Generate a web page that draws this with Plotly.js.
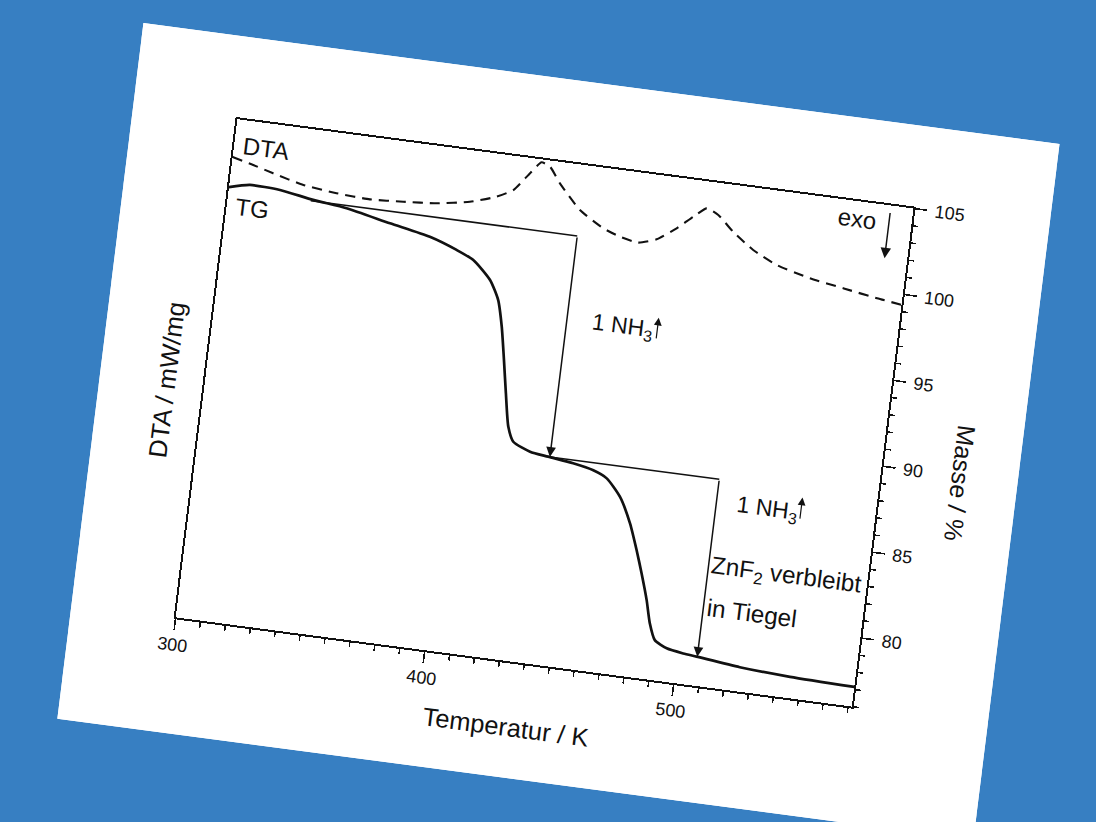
<!DOCTYPE html>
<html>
<head>
<meta charset="utf-8">
<script src="https://cdn.plot.ly/plotly-3.0.1.min.js"></script>
<style>
html,body{margin:0;padding:0;width:1096px;height:822px;overflow:hidden;background:#377fc2;}
#sheet{position:absolute;left:0;top:0;width:924px;height:701px;background:#ffffff;
  transform-origin:0 0;transform:matrix(0.9914,0.13087,-0.12281,0.99233,143.45,23.1);}
#chart{width:924px;height:701px;}
</style>
</head>
<body>
<div id="sheet"><div id="chart"></div></div>
<script>
// ---- data ----
const tgTemperature = [300.0, 308.2, 320.3, 333.9, 347.5, 365.4, 381.8, 393.0, 400.1, 407.7, 411.9, 414.6, 417.1, 419.5, 422.1, 424.8, 431.9, 439.3, 449.5, 457.8, 463.5, 469.6, 474.9, 478.8, 481.9, 485.2, 487.6, 490.4, 495.5, 502.3, 507.7, 525.3, 545.6, 571.5];
const tgMasse = [101.05, 101.33, 101.27, 100.95, 100.73, 100.19, 99.72, 99.17, 98.72, 97.70, 96.61, 95.12, 93.23, 91.33, 89.43, 88.61, 88.17, 88.02, 87.83, 87.58, 87.22, 86.27, 84.82, 83.34, 82.05, 80.56, 79.25, 78.32, 77.94, 77.77, 77.69, 77.41, 77.24, 77.15];

const dtaTemperature = [300.0, 308.5, 316.8, 329.3, 342.8, 356.3, 369.6, 382.9, 395.9, 406.2, 412.5, 418.3, 422.3, 425.9, 430.6, 439.8, 449.9, 456.9, 464.4, 471.5, 478.9, 484.9, 489.8, 494.7, 501.4, 510.2, 520.2, 534.0, 547.9, 561.5, 571.5];
const dtaSignal = [2.68, 2.65, 2.617, 2.573, 2.551, 2.541, 2.553, 2.569, 2.603, 2.652, 2.703, 2.812, 2.883, 2.864, 2.776, 2.639, 2.552, 2.516, 2.496, 2.529, 2.607, 2.686, 2.744, 2.715, 2.630, 2.541, 2.473, 2.422, 2.389, 2.358, 2.339];

// mass levels of the two NH3 steps and the temperatures where they are marked
const stepLevels = [100.88, 88.02, 77.69];
const stepStart = [333, 440];
const stepTemps = [440, 508];

const xRange = [300, 571.5];
const massRange = [76, 105];
const dtaRange = [0, 2.9];

// ---- drawing ----
const FONT = 'Liberation Sans, Arial, Helvetica, sans-serif';
const INK = '#111111';

const traces = [
  {x: dtaTemperature, y: dtaSignal, xaxis: 'x', yaxis: 'y2', mode: 'lines',
   line: {color: INK, width: 2.1, dash: '10px,7px', shape: 'spline', smoothing: 0.5}, hoverinfo: 'skip'},
  {x: tgTemperature, y: tgMasse, xaxis: 'x', yaxis: 'y', mode: 'lines',
   line: {color: INK, width: 2.7, shape: 'spline', smoothing: 0.6}, hoverinfo: 'skip'}
];

function arrow(xh, yh, xt, yt, size, width) {
  return {x: xh, y: yh, ax: xt, ay: yt, xref: 'x', yref: 'y', axref: 'x', ayref: 'y',
    text: '', showarrow: true, arrowhead: 2, arrowsize: size, arrowwidth: width,
    arrowcolor: INK, standoff: 0, startstandoff: 0};
}
function label(txt, x, y, xanchor, size) {
  return {x: x, y: y, xref: 'x', yref: 'y', text: txt, showarrow: false,
    xanchor: xanchor, yanchor: 'middle', font: {family: FONT, size: size, color: INK}};
}

const annotations = [
  label('DTA', 312.6, 103.55, 'center', 24),
  label('TG', 310.3, 100.0, 'center', 24),
  label('exo', 549.8, 104.0, 'center', 24),
  arrow(562.5, 101.93, 562.5, 104.65, 1.4, 1.5),
  label('1 NH<sub>3</sub>', 449.2, 96.0, 'left', 23),
  arrow(476.2, 96.82, 476.2, 95.53, 1.3, 1.2),
  label('1 NH<sub>3</sub>', 515.4, 86.66, 'left', 23),
  arrow(541.8, 87.60, 541.8, 86.29, 1.3, 1.2),
  label('ZnF<sub>2</sub> verbleibt', 508.3, 82.95, 'left', 24.3),
  label('in Tiegel', 508.6, 80.58, 'left', 24.3),
  // step arrows
  arrow(stepTemps[0], stepLevels[1], stepTemps[0], stepLevels[0], 1.3, 1.5),
  arrow(stepTemps[1], stepLevels[2], stepTemps[1], stepLevels[1], 1.3, 1.5),
  // y axis titles
  {xref: 'paper', yref: 'paper', x: 0, y: 0.5, xshift: -38, yshift: -17, text: 'DTA / mW/mg',
   showarrow: false, textangle: -90, xanchor: 'center', yanchor: 'middle',
   font: {family: FONT, size: 25.5, color: INK}},
  {xref: 'paper', yref: 'paper', x: 1, y: 0.5, xshift: 80, yshift: -15, text: 'Masse / %',
   showarrow: false, textangle: 90, xanchor: 'center', yanchor: 'middle',
   font: {family: FONT, size: 25, color: INK}}
];

const shapes = [
  {type: 'line', xref: 'x', yref: 'y', x0: stepStart[0], x1: stepTemps[0], y0: stepLevels[0], y1: stepLevels[0],
   line: {color: INK, width: 1.5}},
  {type: 'line', xref: 'x', yref: 'y', x0: stepStart[1], x1: stepTemps[1], y0: stepLevels[1], y1: stepLevels[1],
   line: {color: INK, width: 1.5}}
];

const layout = {
  width: 924, height: 701,
  margin: {l: 105, r: 137, t: 83, b: 116, pad: 0},
  paper_bgcolor: '#ffffff', plot_bgcolor: '#ffffff',
  showlegend: false,
  font: {family: FONT, color: INK},
  xaxis: {
    range: xRange, tick0: 300, dtick: 100, ticks: 'outside', ticklen: 11, tickwidth: 1.6, tickcolor: INK,
    showline: true, linewidth: 2, linecolor: INK, mirror: true, showgrid: false, zeroline: false,
    tickfont: {family: FONT, size: 18, color: INK}, automargin: false, ticklabelstandoff: -1,
    minor: {dtick: 10, tick0: 300, ticks: 'outside', ticklen: 5, tickwidth: 1.5, tickcolor: INK, showgrid: false},
    title: {text: 'Temperatur / K', font: {family: FONT, size: 25.5, color: INK}, standoff: 20}
  },
  yaxis: {
    range: massRange, side: 'right', tick0: 80, dtick: 5, ticks: 'outside', ticklen: 12, tickwidth: 1.6, tickcolor: INK,
    showline: true, linewidth: 2, linecolor: INK, mirror: false, showgrid: false, zeroline: false,
    tickfont: {family: FONT, size: 18, color: INK}, automargin: false, ticklabelstandoff: 4,
    minor: {dtick: 1, tick0: 76, ticks: 'outside', ticklen: 5, tickwidth: 1.5, tickcolor: INK, showgrid: false}
  },
  yaxis2: {
    range: dtaRange, overlaying: 'y', side: 'left', showline: true, linewidth: 2, linecolor: INK,
    ticks: '', showticklabels: false, showgrid: false, zeroline: false, automargin: false
  },
  annotations: annotations,
  shapes: shapes
};

Plotly.newPlot('chart', traces, layout, {staticPlot: true, displayModeBar: false});
</script>
</body>
</html>
